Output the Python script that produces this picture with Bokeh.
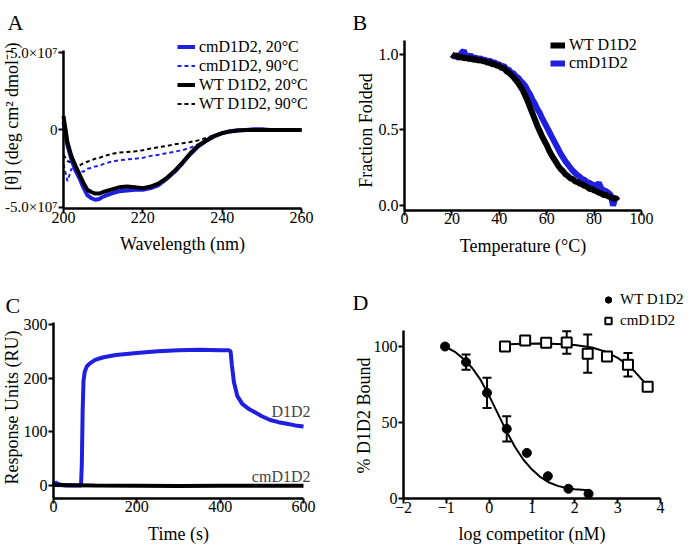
from bokeh.plotting import figure
from bokeh.layouts import column, row
from bokeh.models import (Range1d, FixedTicker, Label, Legend, LegendItem, Whisker,
                          ColumnDataSource, TeeHead)
from bokeh.embed import file_html
from bokeh.resources import INLINE
import math

FONT = "Liberation Serif"
BLUE = "#1f1fe0"
BLACK = "#000000"

# ---------------- Panel A: CD spectra (theta in units of 1e7) ----------------
wavelength = [200, 201, 202, 203, 204, 205, 206, 207, 208, 209, 210, 212, 214, 216, 218, 220,
              222, 224, 226, 228, 230, 232, 234, 236, 238, 240, 242, 244, 246, 248, 250, 252,
              254, 256, 258, 260]
cm_20C = [0.5, -1.0, -1.9, -2.6, -3.1, -3.7, -4.2, -4.4, -4.5, -4.45, -4.3, -4.1, -3.95, -3.9,
          -3.85, -3.85, -3.75, -3.55, -3.15, -2.7, -2.15, -1.55, -1.05, -0.7, -0.4, -0.2, -0.08,
          -0.02, 0.0, 0.05, 0.05, 0.0, 0.0, 0.0, 0.0, 0.0]
cm_90C = [-2.2, -3.3, -2.5, -2.7, -2.6, -2.7, -2.5, -2.45, -2.35, -2.3, -2.2, -2.05, -1.95, -1.9,
          -1.85, -1.8, -1.67, -1.6, -1.5, -1.4, -1.3, -1.14, -0.92, -0.67, -0.43, -0.24, -0.1,
          -0.03, 0.0, 0.02, 0.05, 0.03, 0.02, 0.0, 0.0, 0.0]
wt_20C = [0.9, -0.8, -1.7, -2.3, -2.85, -3.4, -3.85, -4.0, -4.1, -4.1, -4.0, -3.85, -3.7, -3.65,
          -3.7, -3.75, -3.65, -3.45, -3.1, -2.65, -2.1, -1.5, -1.0, -0.67, -0.39, -0.2, -0.09,
          -0.03, 0.0, 0.0, 0.0, 0.0, 0.0, 0.0, 0.0, 0.0]
wt_90C = [-1.6, -2.0, -2.1, -2.3, -2.3, -2.15, -2.05, -1.95, -1.85, -1.8, -1.7, -1.55, -1.45,
          -1.42, -1.38, -1.3, -1.2, -1.1, -1.03, -0.92, -0.86, -0.77, -0.67, -0.5, -0.34, -0.2,
          -0.08, -0.02, 0.0, 0.0, 0.0, 0.0, 0.0, 0.0, 0.0, 0.0]
a_xticks = [200, 220, 240, 260]
a_yticks = [-5, 0, 5]
a_ylabels = {-5: "-5.0×10⁷", 0: "0", 5: "5.0×10⁷"}

# ---------------- Panel B: thermal melt (20..90 °C, 1 °C steps) ----------------
temp = list(range(20, 91))
wt_folded = [1.00, 0.99, 0.995, 0.98, 0.985, 0.975, 0.98, 0.97, 0.975, 0.965, 0.97, 0.96, 0.965,
             0.955, 0.955, 0.945, 0.95, 0.935, 0.935, 0.925, 0.925, 0.91, 0.91, 0.89, 0.88,
             0.865, 0.85, 0.83, 0.81, 0.785, 0.76, 0.725, 0.69, 0.65, 0.61, 0.57, 0.53, 0.495,
             0.46, 0.43, 0.40, 0.365, 0.335, 0.31, 0.285, 0.26, 0.24, 0.225, 0.205, 0.195, 0.18,
             0.175, 0.16, 0.155, 0.145, 0.14, 0.13, 0.125, 0.11, 0.11, 0.10, 0.095, 0.085, 0.08,
             0.07, 0.07, 0.06, 0.055, 0.045, 0.05, 0.035]
cm_folded = [1.00, 0.985, 0.99, 0.975, 1.01, 1.025, 0.99, 0.985, 0.995, 0.975, 0.98, 0.97, 0.975,
             0.965, 0.965, 0.955, 0.96, 0.945, 0.95, 0.935, 0.935, 0.92, 0.925, 0.90, 0.90,
             0.88, 0.875, 0.855, 0.845, 0.825, 0.81, 0.79, 0.76, 0.735, 0.70, 0.675, 0.64,
             0.615, 0.58, 0.55, 0.52, 0.49, 0.46, 0.43, 0.40, 0.37, 0.34, 0.315, 0.29, 0.27,
             0.25, 0.23, 0.215, 0.20, 0.19, 0.175, 0.17, 0.155, 0.15, 0.14, 0.135, 0.13, 0.15,
             0.115, 0.10, 0.095, 0.085, 0.07, 0.0, 0.05, 0.03]
b_xticks = [0, 20, 40, 60, 80, 100]
b_yticks = [0.0, 0.5, 1.0]
b_ylabels = {0: "0.0", 0.5: "0.5", 1: "1.0"}

# ---------------- Panel C: SPR sensorgram ----------------
time_s = [0, 5, 10, 20, 30, 50, 66, 68, 70, 72, 75, 80, 90, 100, 120, 150, 200, 250, 300, 350,
          400, 420, 425, 428, 433, 441, 453, 460, 470, 480, 500, 520, 540, 560, 580, 600]
d1d2_ru = [2, 6, 3, 1, 0, 0, 0, 40, 140, 195, 212, 222, 229, 234, 239, 243, 247, 250, 252, 253,
           252, 252, 250, 225, 193, 167, 152, 148, 142, 138, 129, 122, 118, 115, 112, 110]
cm_time = [0, 100, 200, 300, 400, 500, 600]
cm_ru = [1, 0, -0.5, -1, -0.5, -0.5, -0.5]
c_xticks = [0, 200, 400, 600]
c_yticks = [0, 100, 200, 300]

# ---------------- Panel D: competition binding ----------------
wt_logc = [-1.03, -0.54, -0.05, 0.41, 0.88, 1.37, 1.85, 2.32]
wt_bound = [100, 89.7, 69.5, 45.8, 30, 14.7, 6.4, 3.1]
wt_sem = [0, 5, 9.9, 8.3, 0, 0, 0, 0]
cm_logc = [0.37, 0.84, 1.33, 1.81, 2.30, 2.75, 3.24, 3.70]
cm_bound = [100, 104, 102.4, 102.6, 95.3, 93.5, 88, 73.5]
cm_sem = [0, 0, 1, 7.4, 12.6, 2.5, 7.8, 0]
wt_fit_x = [-1.03, -0.8, -0.6, -0.4, -0.2, 0.0, 0.2, 0.4, 0.6, 0.8, 1.0, 1.2, 1.4, 1.6, 1.8,
            2.0, 2.32]
wt_fit_y = [100, 96.5, 91.8, 86, 78, 67.5, 56, 44.5, 34, 25.5, 19, 14, 10.5, 8.3, 6.9, 6.1, 5.5]
cm_fit_x = [0.37, 0.8, 1.2, 1.6, 2.0, 2.4, 2.7, 3.0, 3.2, 3.4, 3.7]
cm_fit_y = [101.5, 101.8, 101.9, 101.7, 101.0, 99.3, 96.8, 92.5, 88.5, 83.5, 74.0]
d_xticks = [-2, -1, 0, 1, 2, 3, 4]
d_yticks = [0, 50, 100]


def make_fig(w, h, view_x, view_y, axis_x, axis_y):
    """view_*: visible canvas extent; axis_*: extent (bounds) of the drawn axes."""
    p = figure(width=w, height=h, x_range=Range1d(*view_x), y_range=Range1d(*view_y),
               output_backend="svg", toolbar_location=None,
               min_border_left=0, min_border_right=0, min_border_top=0, min_border_bottom=0)
    p.title.visible = False
    p.outline_line_color = None
    p.xgrid.visible = False
    p.ygrid.visible = False
    p.background_fill_color = "white"
    p.border_fill_color = "white"
    p.xaxis[0].fixed_location = axis_y[0]
    p.yaxis[0].fixed_location = axis_x[0]
    p.xaxis[0].bounds = axis_x
    p.yaxis[0].bounds = axis_y
    return p


def style_axes(p, xticks, yticks, xlabel, ylab_overrides=None, yfont="16px"):
    for ax in (p.xaxis[0], p.yaxis[0]):
        ax.axis_line_width = 2.5
        ax.axis_line_color = "black"
        ax.major_tick_line_width = 2
        ax.major_tick_line_color = "black"
        ax.major_tick_in = 0
        ax.major_tick_out = 5
        ax.minor_tick_line_color = None
        ax.major_label_text_font = FONT
        ax.major_label_text_font_size = "16px"
        ax.major_label_text_color = "black"
        ax.axis_label_text_font = FONT
        ax.axis_label_text_font_size = "18px"
        ax.axis_label_text_font_style = "normal"
        ax.axis_label_text_color = "black"
    p.xaxis[0].ticker = FixedTicker(ticks=xticks)
    p.yaxis[0].ticker = FixedTicker(ticks=yticks)
    p.xaxis[0].axis_label = xlabel
    p.xaxis[0].major_label_standoff = -2
    p.xaxis[0].axis_label_standoff = 8
    p.yaxis[0].major_label_standoff = 1
    p.yaxis[0].major_label_text_font_size = yfont
    if ylab_overrides:
        p.yaxis[0].major_label_overrides = ylab_overrides


def canvas_text(p, x, y, text, size, angle=0.0, align="left", baseline="alphabetic"):
    p.add_layout(Label(x=x, y=y, x_units="canvas", y_units="canvas", text=text,
                       text_font=FONT, text_font_size=size, text_color="black",
                       angle=angle, text_align=align, text_baseline=baseline))


def style_legend(lg, size, gw, lh):
    lg.border_line_color = None
    lg.background_fill_alpha = 0
    lg.label_text_font = FONT
    lg.label_text_font_size = size
    lg.label_text_color = "black"
    lg.glyph_width = gw
    lg.glyph_height = lh
    lg.label_height = lh
    lg.label_standoff = 4
    lg.spacing = 0
    lg.padding = 0
    lg.margin = 0


# ---- A ----
pA = make_fig(345, 270, (184.118, 271.092), (-9.065, 8.355), (200, 260), (-5.065, 5.13))
style_axes(pA, a_xticks, a_yticks, "Wavelength (nm)", a_ylabels, yfont="15px")
r_wt90 = pA.line(wavelength, wt_90C, line_color=BLACK, line_width=2, line_dash="4 3")
r_cm90 = pA.line(wavelength, cm_90C, line_color=BLUE, line_width=2, line_dash="4 3")
r_cm20 = pA.line(wavelength, cm_20C, line_color=BLUE, line_width=4)
r_wt20 = pA.line(wavelength, wt_20C, line_color=BLACK, line_width=4)
legA = Legend(items=[LegendItem(label="cmD1D2, 20°C", renderers=[r_cm20]),
                     LegendItem(label="cmD1D2, 90°C", renderers=[r_cm90]),
                     LegendItem(label="WT D1D2, 20°C", renderers=[r_wt20]),
                     LegendItem(label="WT D1D2, 90°C", renderers=[r_wt90])],
              location=(177, 157))
style_legend(legA, "16px", 18, 19)
pA.add_layout(legA)
canvas_text(pA, 7, 22, "A", "22px")
canvas_text(pA, 11, 116, "[θ] (deg cm² dmol⁻¹)", "18px", angle=math.pi / 2,
            align="center", baseline="middle")

# ---- B ----
pB = make_fig(348, 270, (-24.895, 121.94), (-0.4305, 1.3576), (0, 100), (-0.033, 1.093))
style_axes(pB, b_xticks, b_yticks, "Temperature (°C)", b_ylabels)
r_bcm = pB.line(temp, cm_folded, line_color=BLUE, line_width=6)
r_bwt = pB.line(temp, wt_folded, line_color=BLACK, line_width=6)
legB = Legend(items=[LegendItem(label="WT D1D2", renderers=[r_bwt]),
                     LegendItem(label="cmD1D2", renderers=[r_bcm])],
              location=(205, 198))
style_legend(legB, "16px", 15, 18)
pB.add_layout(legB)
canvas_text(pB, 7, 22, "B", "22px")
canvas_text(pB, 20, 130, "Fraction Folded", "18px", angle=math.pi / 2,
            align="center", baseline="middle")

# ---- C ----
pC = make_fig(345, 275, (-127.2, 700.8), (-111.8, 400.62), (0, 600), (-24.2, 303.7))
style_axes(pC, c_xticks, c_yticks, "Time (s)")
pC.line(time_s, d1d2_ru, line_color=BLUE, line_width=4)
pC.line(cm_time, cm_ru, line_color=BLACK, line_width=4)
pC.add_layout(Label(x=600, y=138, x_offset=7, text="D1D2", text_font=FONT,
                    text_font_size="16px", text_align="right", text_baseline="middle"))
pC.add_layout(Label(x=600, y=17, x_offset=7, text="cmD1D2", text_font=FONT,
                    text_font_size="16px", text_align="right", text_baseline="middle"))
canvas_text(pC, 5, 35, "C", "22px")
canvas_text(pC, 11, 137, "Response Units (RU)", "18px", angle=math.pi / 2,
            align="center", baseline="middle")

# ---- D ----
pD = make_fig(348, 275, (-3.354, 4.770), (-30.92, 150), (-2, 4), (0, 110.5))
style_axes(pD, d_xticks, d_yticks, "log competitor (nM)")
pD.line(wt_fit_x, wt_fit_y, line_color=BLACK, line_width=2)
pD.line(cm_fit_x, cm_fit_y, line_color=BLACK, line_width=2)
wt_err = [(x, y - e, y + e) for x, y, e in zip(wt_logc, wt_bound, wt_sem) if e > 0]
cm_err = [(x, y - e, y + e) for x, y, e in zip(cm_logc, cm_bound, cm_sem) if e > 0]
for errs in (wt_err, cm_err):
    src = ColumnDataSource(dict(base=[t[0] for t in errs], lower=[t[1] for t in errs],
                                upper=[t[2] for t in errs]))
    pD.add_layout(Whisker(source=src, base="base", lower="lower", upper="upper",
                          line_width=2, line_color="black",
                          upper_head=TeeHead(size=9, line_width=2, line_color="black"),
                          lower_head=TeeHead(size=9, line_width=2, line_color="black")))
r_dwt = pD.scatter(wt_logc, wt_bound, marker="circle", size=9, fill_color="black",
                   line_color="black")
r_dcm = pD.scatter(cm_logc, cm_bound, marker="square", size=10, fill_color="white",
                   line_color="black", line_width=2)
legD = Legend(items=[LegendItem(label="WT D1D2", renderers=[r_dwt]),
                     LegendItem(label="cmD1D2", renderers=[r_dcm])],
              location=(255, 214))
style_legend(legD, "15px", 16, 21)
pD.add_layout(legD)
canvas_text(pD, 7, 32, "D", "22px")
canvas_text(pD, 18, 145, "% D1D2 Bound", "18px", angle=math.pi / 2,
            align="center", baseline="middle")

layout = column(row(pA, pB), row(pC, pD))
open("out.html", "w").write(file_html(layout, INLINE))
